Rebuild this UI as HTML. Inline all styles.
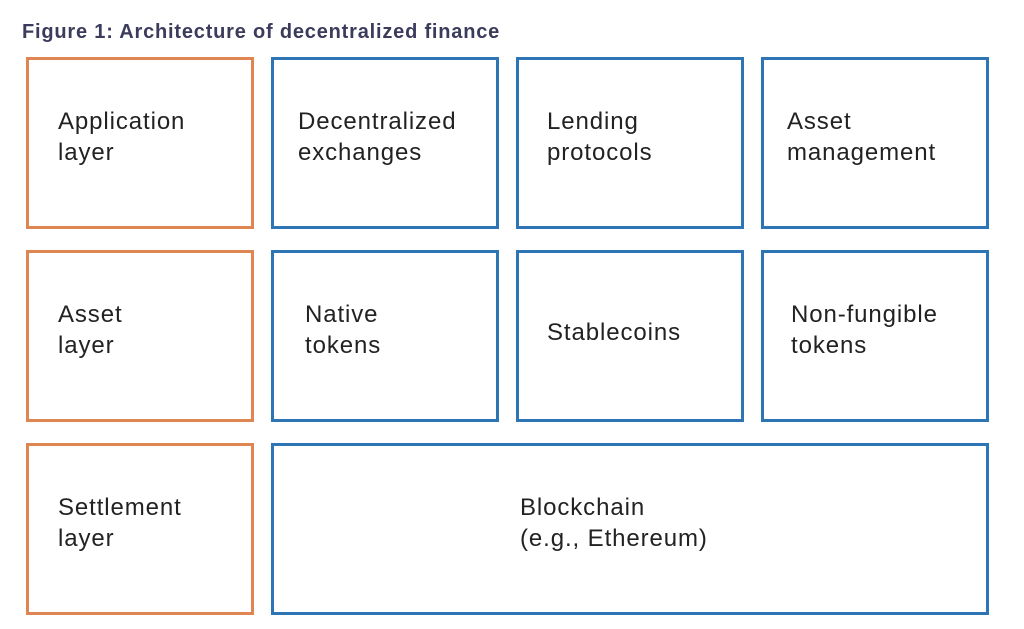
<!DOCTYPE html>
<html><head><style>
body{margin:0;width:1024px;height:629px;background:#fff;position:relative;overflow:hidden;font-family:"Liberation Sans",sans-serif}
.t{position:absolute;left:22px;top:21px;font-weight:bold;font-size:20px;letter-spacing:0.8px;color:#3b3b5c}
.b{position:absolute;box-sizing:border-box;border:3px solid #2e75b6}
.o{border-color:#df8551}
.x{position:absolute;font-size:24px;letter-spacing:0.9px;line-height:31px;color:#222}
</style></head><body>
<div class="t">Figure 1: Architecture of decentralized finance</div>
<div class="b o" style="left:26px;top:57px;width:228px;height:172px"></div>
<div class="b" style="left:271px;top:57px;width:228px;height:172px"></div>
<div class="b" style="left:516px;top:57px;width:228px;height:172px"></div>
<div class="b" style="left:761px;top:57px;width:228px;height:172px"></div>
<div class="b o" style="left:26px;top:250px;width:228px;height:172px"></div>
<div class="b" style="left:271px;top:250px;width:228px;height:172px"></div>
<div class="b" style="left:516px;top:250px;width:228px;height:172px"></div>
<div class="b" style="left:761px;top:250px;width:228px;height:172px"></div>
<div class="b o" style="left:26px;top:443px;width:228px;height:172px"></div>
<div class="b" style="left:271px;top:443px;width:718px;height:172px"></div>
<div class="x" style="left:58px;top:106px">Application<br>layer</div>
<div class="x" style="left:298px;top:106px">Decentralized<br>exchanges</div>
<div class="x" style="left:547px;top:106px">Lending<br>protocols</div>
<div class="x" style="left:787px;top:106px">Asset<br>management</div>
<div class="x" style="left:58px;top:299px">Asset<br>layer</div>
<div class="x" style="left:305px;top:299px">Native<br>tokens</div>
<div class="x" style="left:547px;top:317px">Stablecoins</div>
<div class="x" style="left:791px;top:299px">Non-fungible<br>tokens</div>
<div class="x" style="left:58px;top:492px">Settlement<br>layer</div>
<div class="x" style="left:520px;top:492px">Blockchain<br>(e.g., Ethereum)</div>
</body></html>
